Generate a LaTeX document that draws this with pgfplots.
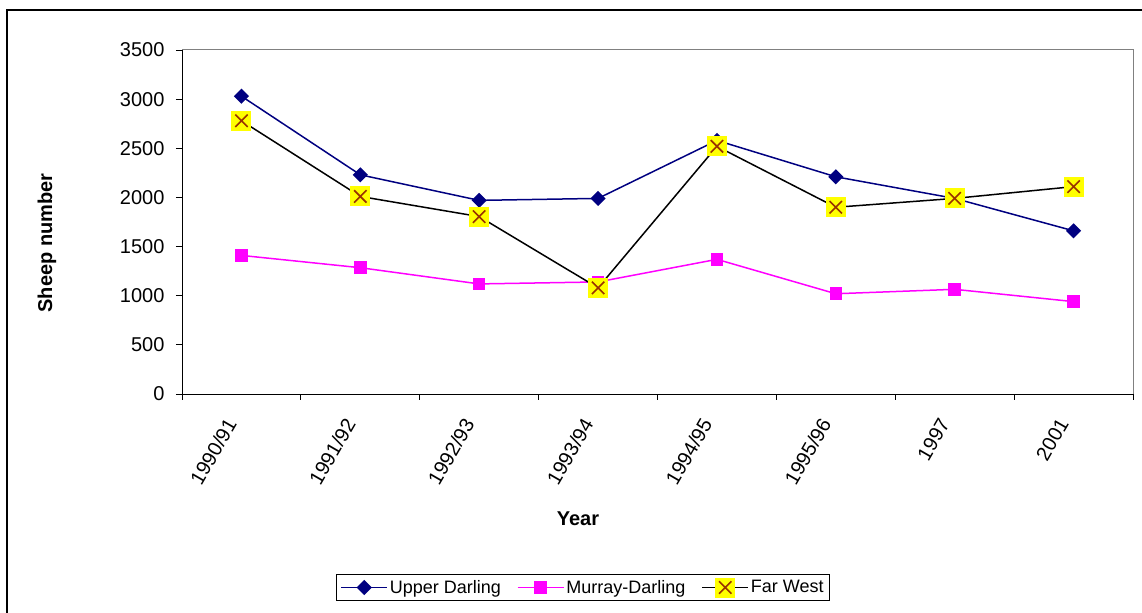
\documentclass[border=0pt]{standalone}
\usepackage{pgfplots}
\pgfplotsset{compat=1.18}
\usepackage{fontspec}
\setmainfont{Liberation Sans}
\definecolor{udblue}{RGB}{0,0,128}
\definecolor{mdmag}{RGB}{255,0,255}
\definecolor{fwbrown}{RGB}{153,51,0}
\definecolor{fwyellow}{RGB}{255,255,0}
\definecolor{bordergray}{RGB}{128,128,128}
\pgfdeclareplotmark{fwx}{%
 \pgfpathrectangle{\pgfqpoint{-\pgfplotmarksize}{-\pgfplotmarksize}}{\pgfqpoint{2\pgfplotmarksize}{2\pgfplotmarksize}}%
 \pgfsetfillcolor{fwyellow}\pgfusepathqfill
 \pgfsetstrokecolor{fwbrown}\pgfsetlinewidth{1.6bp}%
 \pgfpathmoveto{\pgfqpoint{-0.62\pgfplotmarksize}{-0.62\pgfplotmarksize}}\pgfpathlineto{\pgfqpoint{0.62\pgfplotmarksize}{0.62\pgfplotmarksize}}%
 \pgfpathmoveto{\pgfqpoint{-0.62\pgfplotmarksize}{0.62\pgfplotmarksize}}\pgfpathlineto{\pgfqpoint{0.62\pgfplotmarksize}{-0.62\pgfplotmarksize}}%
 \pgfusepathqstroke}
\begin{document}
\begin{tikzpicture}
\useasboundingbox (0bp,0bp) rectangle (1142bp,613bp);
\draw[line width=1.2bp] (7bp,-20bp) -- (7bp,603bp) -- (1160bp,603bp);
\begin{axis}[
  at={(182bp,219bp)}, anchor=south west,
  scale only axis, width=951bp, height=344bp,
  xmin=-0.5, xmax=7.5, ymin=0, ymax=3500,
  ytick={0,500,...,3500},
  xtick={-0.5,0.5,...,7.5}, xticklabels={},
  extra x ticks={0,1,2,3,4,5,6,7},
  extra x tick labels={1990/91,1991/92,1992/93,1993/94,1994/95,1995/96,1997,2001},
  extra x tick style={major tick length=0pt, grid=none,
     xticklabel style={yshift=-26bp, xshift=-10bp, rotate=60, anchor=east, inner sep=0bp}},
  tick align=outside, major tick length=6bp,
  tick style={black, line width=0.8bp},
  axis x line*=bottom, axis y line*=left,
  axis line style={black, line width=1bp},
  /pgf/number format/assume math mode=true,
  /pgf/number format/1000 sep={},
  tick label style={font=\fontsize{20bp}{24bp}\selectfont},
  yticklabel style={xshift=-8bp},
  xlabel={Year},
  ylabel={Sheep number},
  every axis x label/.style={at={(axis description cs:0.4164,-0.3634)}, anchor=center,
     font=\fontsize{20bp}{24bp}\selectfont\bfseries},
  every axis y label/.style={at={(axis description cs:-0.142,0.439)}, anchor=center, rotate=90,
     font=\fontsize{20bp}{24bp}\selectfont\bfseries},
  legend columns=3,
  legend style={at={(axis description cs:0.4217,-0.5625)}, anchor=center,
     draw=black, line width=0.8bp, font=\fontsize{18bp}{22bp}\selectfont,
     inner xsep=4bp, inner ysep=3bp,
     /tikz/every even column/.append style={column sep=14bp}},
  legend image code/.code={\draw[#1, mark repeat=2, mark phase=2] plot coordinates {(0bp,0bp) (23bp,0bp) (46bp,0bp)};},
  clip=false,
]
\draw[bordergray, line width=1bp] (rel axis cs:0,1) -- (rel axis cs:1,1) -- (rel axis cs:1,0);
\addplot[udblue, line width=1.5bp, mark=square*, mark size=4.6bp, mark options={rotate=45, solid, fill=udblue}]
  coordinates {(0,3030) (1,2230) (2,1970) (3,1990) (4,2580) (5,2210) (6,1990) (7,1660)};
\addlegendentry{Upper Darling}
\addplot[mdmag, line width=1.5bp, mark=square*, mark size=5.5bp, mark options={solid, fill=mdmag}]
  coordinates {(0,1410) (1,1285) (2,1120) (3,1140) (4,1370) (5,1020) (6,1065) (7,940)};
\addlegendentry{Murray-Darling}
\addplot[black, line width=1.5bp, mark=fwx, mark size=10bp]
  coordinates {(0,2780) (1,2010) (2,1805) (3,1080) (4,2520) (5,1900) (6,1990) (7,2110)};
\addlegendentry{Far West}
\end{axis}
\end{tikzpicture}
\end{document}
